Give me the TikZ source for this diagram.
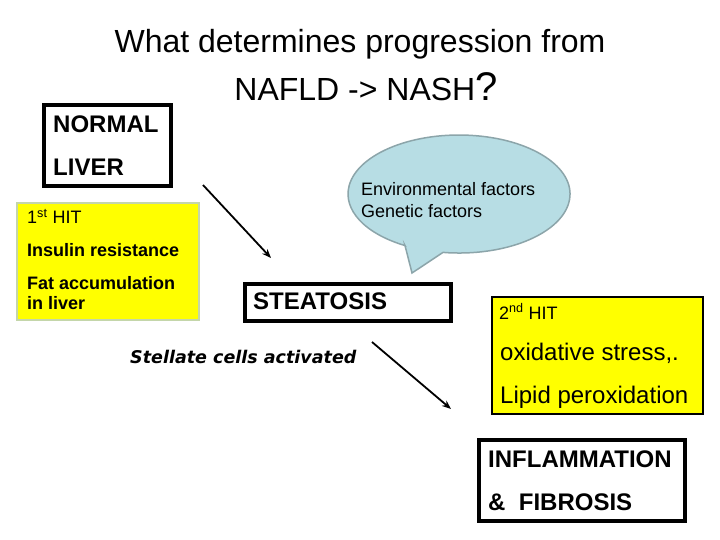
\documentclass[tikz,border=0pt]{standalone}
\usepackage{fontspec}
\setmainfont{Liberation Sans}
\newfontfamily\dvfont{DejaVu Sans}
\usetikzlibrary{arrows.meta}
\definecolor{hityellow}{RGB}{255,255,0}
\definecolor{hitedge}{RGB}{196,214,170}
\definecolor{callfill}{RGB}{183,221,228}
\definecolor{calledge}{RGB}{140,165,170}
\begin{document}
\begin{tikzpicture}[x=1pt,y=-1pt,
  txt/.style={anchor=base west,inner sep=0pt},
  ctr/.style={anchor=base,inner sep=0pt},
  f32/.style={font=\fontsize{32}{36}\selectfont},
  f24/.style={font=\fontsize{24}{28}\selectfont},
  f24b/.style={font=\fontsize{24}{28}\selectfont\bfseries},
  f18/.style={font=\fontsize{18}{21}\selectfont},
  f18b/.style={font=\fontsize{18}{21}\selectfont\bfseries},
  thickbox/.style={draw=black,line width=4pt,fill=white},
  hitbox/.style={fill=hityellow,line width=1.5pt},
  callout/.style={fill=callfill,draw=calledge,line width=1.5pt},
  arr/.style={line width=1.8pt,-{Stealth[length=9pt,width=7pt]}}]
\useasboundingbox[fill=white] (0,0) rectangle (720,540);

% title
\node[ctr,f32] (t1) at (360,53) {What determines progression from};
\node[ctr,f32] (t2) at (366,101) {NAFLD -> NASH{\fontsize{40}{44}\selectfont ?}};

% normal liver
\draw[thickbox] (44,105) rectangle (171,186);
\node[txt,f24b] (normal) at (53,133) {NORMAL};
\node[txt,f24b] (liver) at (53,176) {LIVER};

% first hit
\draw[hitbox,draw=hitedge] (17,203) rectangle (199,320);
\node[txt,f18] (hit1) at (27,224) {1\textsuperscript{st} HIT};
\node[txt,f18b] (ins) at (27,256) {Insulin resistance};
\node[txt,f18b] (fat) at (27,289) {Fat accumulation};
\node[txt,f18b] (inl) at (27,309) {in liver};

% callout
\draw[callout] (405,245.5) -- (412,273) -- (443,252.4)
  arc[start angle=98.3,end angle=-240.9,x radius=111,y radius=59] -- cycle;
\node[txt,f18] (env) at (361,196) {Environmental factors};
\node[txt,f18] (gen) at (361,218) {Genetic factors};

% steatosis
\draw[thickbox] (245,284) rectangle (451,321);
\node[txt,f24b] (stea) at (253,309) {STEATOSIS};
\node[txt,font=\dvfont\fontsize{17.5}{20}\selectfont\bfseries\itshape] (stel) at (130,363) {Stellate cells activated};

% second hit
\draw[hitbox,draw=black] (492,297) rectangle (703,414);
\node[txt,f18] (hit2) at (499,319) {2\textsuperscript{nd} HIT};
\node[txt,f24] (oxi) at (500,360) {oxidative stress,.};
\node[txt,f24] (lip) at (500,403) {Lipid peroxidation};

% inflammation
\draw[thickbox] (479,440) rectangle (685,521);
\node[txt,f24b] (infl) at (488,467) {INFLAMMATION};
\node[txt,f24b] (fib) at (488,510) {\&\ \ FIBROSIS};

% arrows
\coordinate (a1s) at (203,185);
\coordinate (a1e) at (271,258);
\coordinate (a2s) at (372,342);
\coordinate (a2e) at (451,409);
\draw[arr] (a1s) -- (a1e);
\draw[arr] (a2s) -- (a2e);
\end{tikzpicture}
\end{document}
